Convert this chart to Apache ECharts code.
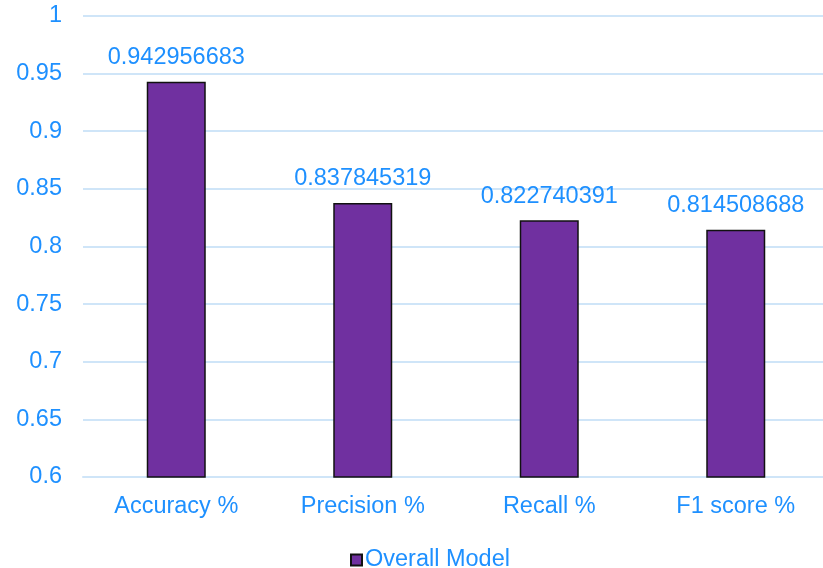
<!DOCTYPE html>
<html>
<head>
<meta charset="utf-8">
<script src="https://cdn.jsdelivr.net/npm/echarts@6/dist/echarts.min.js"></script>
<style>
  html, body { margin: 0; padding: 0; background: #fff; }
  #chart { width: 823px; height: 568px; }
</style>
</head>
<body>
<div id="chart"></div>
<script>
// Metric names along the x axis
const categories = ['Accuracy %', 'Precision %', 'Recall %', 'F1 score %'];
// Scores of the overall model
const overallModel = [0.942956683, 0.837845319, 0.822740391, 0.814508688];
// Value axis range
const yMin = 0.6;
const yMax = 1;
const yStep = 0.05;

const textBlue = '#1E90FF';
const fontFamily = '"Liberation Sans", Arial, sans-serif';
const fontSize = 23.5;

const chart = echarts.init(document.getElementById('chart'), null, { renderer: 'canvas' });
chart.setOption({
  animation: false,
  backgroundColor: '#ffffff',
  grid: {
    left: 83, top: 16, width: 746, height: 461,
    containLabel: false, outerBoundsMode: 'none'
  },
  xAxis: {
    type: 'category',
    data: categories,
    axisLine: { show: true, lineStyle: { color: '#CFE5F8', width: 2 } },
    axisTick: { show: false },
    axisLabel: { color: textBlue, fontSize: fontSize, fontFamily: fontFamily, margin: 18 }
  },
  yAxis: {
    type: 'value',
    min: yMin,
    max: yMax,
    interval: yStep,
    axisLine: { show: false },
    axisTick: { show: false },
    axisLabel: {
      color: textBlue, fontSize: fontSize, fontFamily: fontFamily, margin: 21,
      formatter: v => String(parseFloat(v.toFixed(2)))
    },
    splitLine: { show: true, lineStyle: { color: '#CFE5F8', width: 2 } }
  },
  legend: {
    data: ['Overall Model'],
    left: 345,
    top: 543,
    itemWidth: 11,
    itemHeight: 11,
    itemGap: 4,
    icon: 'rect',
    textStyle: { color: textBlue, fontSize: fontSize, fontFamily: fontFamily, padding: [0, 0, 0, -2] }
  },
  series: [{
    name: 'Overall Model',
    type: 'bar',
    data: overallModel,
    barWidth: 59,
    itemStyle: { color: '#7030A0', borderColor: '#111111', borderWidth: 1.5 },
    label: {
      show: true,
      position: 'top',
      distance: 12,
      color: textBlue,
      fontSize: fontSize,
      fontFamily: fontFamily,
      formatter: p => String(p.value)
    }
  }]
});
</script>
</body>
</html>
